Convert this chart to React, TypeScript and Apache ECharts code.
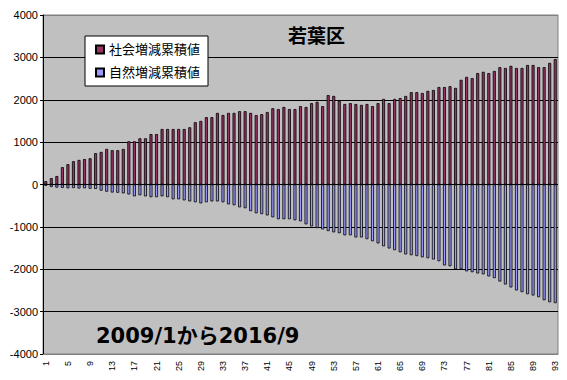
import React, { useEffect, useRef } from "react";
import * as echarts from "echarts";

const categories: string[] = Array.from({ length: 93 }, (_, i) => String(i + 1));

const socialValues: number[] = [
  80, 150, 200, 410, 480, 550, 580, 600, 620, 740,
  770, 840, 810, 810, 840, 1020, 1020, 1090, 1090, 1190,
  1190, 1310, 1310, 1310, 1310, 1310, 1350, 1470, 1500, 1590,
  1590, 1690, 1640, 1690, 1690, 1730, 1730, 1690, 1640, 1660,
  1710, 1800, 1780, 1830, 1780, 1780, 1850, 1830, 1920, 1950,
  1850, 2110, 2090, 1970, 1900, 1920, 1900, 1880, 1900, 1850,
  1920, 2020, 1920, 2020, 2040, 2090, 2180, 2180, 2160, 2210,
  2230, 2300, 2300, 2320, 2280, 2470, 2540, 2510, 2630, 2660,
  2630, 2680, 2770, 2750, 2800, 2750, 2750, 2820, 2820, 2770,
  2770, 2870, 2960,
];

const naturalValues: number[] = [
  -30, -60, -75, -80, -90, -85, -95, -90, -100, -105,
  -145, -170, -190, -195, -210, -235, -280, -255, -280, -300,
  -300, -280, -300, -350, -350, -375, -400, -420, -445, -420,
  -400, -400, -420, -470, -490, -540, -560, -630, -680, -700,
  -730, -775, -820, -820, -820, -845, -870, -940, -990, -1030,
  -1060, -1100, -1130, -1150, -1200, -1200, -1250, -1250, -1290, -1340,
  -1390, -1460, -1510, -1550, -1600, -1650, -1670, -1690, -1720, -1740,
  -1770, -1810, -1910, -1930, -2000, -2000, -2050, -2070, -2100, -2120,
  -2170, -2210, -2290, -2360, -2430, -2500, -2540, -2590, -2620, -2660,
  -2730, -2780, -2800,
];

const seriesNames: string[] = ["社会増減累積値", "自然増減累積値"];
const chartTitle = "若葉区";
const periodLabel = "2009/1から2016/9";

const LATIN = "'Liberation Sans', Arial, 'Noto Sans CJK JP', sans-serif";
const CJK = "'Liberation Sans', 'Noto Sans CJK JP', sans-serif";
const WIDE = "'DejaVu Sans', 'Noto Sans CJK JP', sans-serif";

export default function App() {
  const ref = useRef<HTMLDivElement>(null);
  useEffect(() => {
    if (!ref.current) return;
    const chart = echarts.init(ref.current, undefined, { renderer: "svg" });
    chart.setOption({
      animation: false,
      backgroundColor: "#ffffff",
      grid: {
        left: 43,
        right: 9,
        top: 15,
        bottom: 26,
        show: true,
        backgroundColor: "#C0C0C0",
        borderColor: "#808080",
        borderWidth: 1,
      },
      legend: {
        orient: "vertical",
        left: 85,
        top: 36,
        data: seriesNames,
        backgroundColor: "#ffffff",
        borderColor: "#000000",
        borderWidth: 1,
        padding: [7, 8, 7, 10],
        itemGap: 10,
        itemWidth: 8,
        itemHeight: 8,
        icon: "rect",
        textStyle: { fontFamily: CJK, fontSize: 13, color: "#000" },
      },
      xAxis: {
        type: "category",
        data: categories,
        axisLine: { onZero: false, lineStyle: { color: "#808080" } },
        axisTick: { show: false },
        axisLabel: {
          interval: 3,
          rotate: 90,
          fontSize: 9,
          fontFamily: LATIN,
          color: "#000",
          margin: 7,
        },
        splitLine: { show: false },
      },
      yAxis: {
        type: "value",
        min: -4000,
        max: 4000,
        interval: 1000,
        axisLine: { show: true, lineStyle: { color: "#000" } },
        axisTick: { show: true, length: 3, lineStyle: { color: "#000" } },
        axisLabel: {
          fontSize: 11,
          fontFamily: LATIN,
          color: "#000",
          margin: 5,
          formatter: (v: number) => String(v),
        },
        splitLine: {
          show: true,
          lineStyle: {
            color: ["#808080", "#000", "#000", "#000", "#000", "#000", "#000", "#000", "#808080"],
            width: 1,
          },
        },
      },
      series: [
        {
          name: seriesNames[0],
          type: "bar",
          data: socialValues,
          barWidth: 3,
          barGap: "-100%",
          itemStyle: { color: "#993366", borderColor: "#000", borderWidth: 0.8 },
        },
        {
          name: seriesNames[1],
          type: "bar",
          data: naturalValues,
          barWidth: 3,
          barGap: "-100%",
          itemStyle: { color: "#9999FF", borderColor: "#000", borderWidth: 0.8 },
        },
      ],
      graphic: [
        {
          type: "text",
          left: 288,
          top: 27,
          style: {
            text: chartTitle,
            fontSize: 19,
            fontWeight: "bold",
            fontFamily: CJK,
            fill: "#000",
          },
        },
        {
          type: "text",
          left: 96,
          top: 325,
          style: {
            text: periodLabel,
            fontSize: 21,
            fontWeight: "bold",
            fontFamily: WIDE,
            fill: "#000",
          },
        },
      ],
    });
    return () => chart.dispose();
  }, []);
  return <div ref={ref} style={{ width: 567, height: 380, position: "absolute", left: 0, top: 0 }} />;
}
